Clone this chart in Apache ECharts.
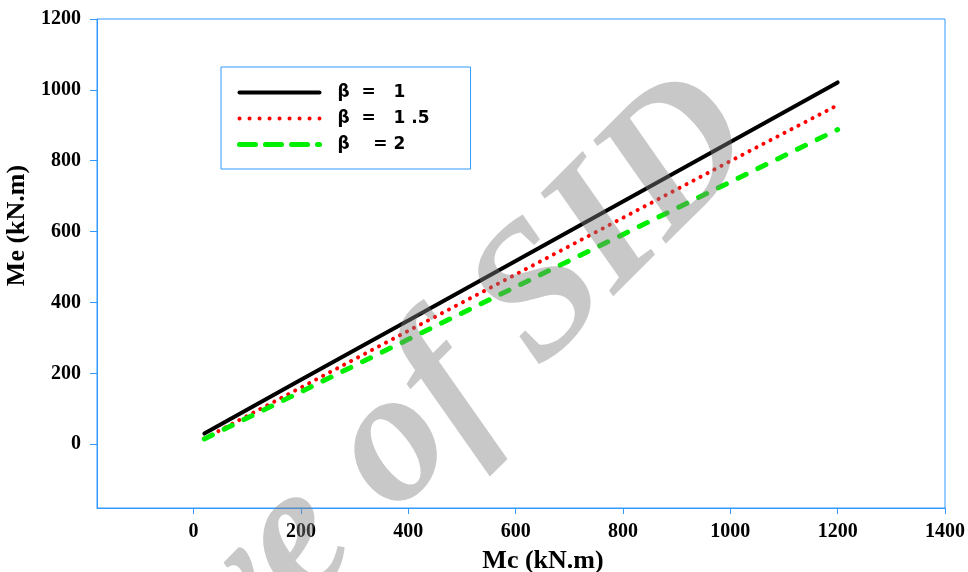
<!DOCTYPE html>
<html>
<head>
<meta charset="utf-8">
<script src="https://cdn.jsdelivr.net/npm/echarts@6/dist/echarts.min.js"></script>
<style>html,body{margin:0;padding:0;background:#fff}#c{width:968px;height:572px}</style>
</head>
<body>
<div id="c"></div>
<script>
const mcValues = [20, 200, 400, 600, 800, 1000, 1200];
const meBeta1 = [30, 182, 349, 517, 685, 853, 1021];
const meBeta15 = [16, 160, 320, 479, 639, 799, 957];
const meBeta2 = [15, 148, 296, 444, 592, 740, 888];
const seriesNames = ['β  =   1', 'β  =   1 .5', 'β    = 2'];
const xTicks = [0, 200, 400, 600, 800, 1000, 1200, 1400];
const yTicks = [0, 200, 400, 600, 800, 1000, 1200];

const blue = '#3399ff';
const pairs = ys => mcValues.map((x, i) => [x, ys[i]]);
const tickFont = {fontFamily: 'Liberation Serif', fontWeight: 'bold', fontSize: 20, color: '#000', formatter: v => String(v)};

const chart = echarts.init(document.getElementById('c'), null, {renderer: 'canvas'});
chart.setOption({
  animation: false,
  backgroundColor: '#fff',
  grid: {left: 97, right: 23, top: 19, bottom: 64, containLabel: false, outerBoundsMode: 'none',
         show: true, borderColor: blue, borderWidth: 1, backgroundColor: 'transparent'},
  xAxis: {
    type: 'value', min: -180, max: 1400,
    name: 'Mc (kN.m)', nameLocation: 'middle', nameGap: 40,
    nameTextStyle: {fontFamily: 'Liberation Serif', fontWeight: 'bold', fontSize: 26, color: '#000', padding: [0, 0, 0, 44]},
    axisLine: {show: true, onZero: false, lineStyle: {color: blue, width: 1}},
    axisTick: {show: true, length: 6, inside: false, customValues: xTicks, lineStyle: {color: blue}},
    axisLabel: {customValues: xTicks, margin: 14, ...tickFont},
    splitLine: {show: false}
  },
  yAxis: {
    type: 'value', min: -180, max: 1200,
    name: 'Me (kN.m)', nameLocation: 'middle', nameGap: 63,
    nameTextStyle: {fontFamily: 'Liberation Serif', fontWeight: 'bold', fontSize: 26, color: '#000', padding: [0, 0, 0, 76]},
    axisLine: {show: true, onZero: false, lineStyle: {color: blue, width: 1}},
    axisTick: {show: true, length: 7, inside: false, customValues: yTicks, lineStyle: {color: blue}},
    axisLabel: {customValues: yTicks, margin: 16, ...tickFont},
    splitLine: {show: false}
  },
  legend: {
    orient: 'vertical', left: 221, top: 67,
    data: [
      {name: seriesNames[0], itemStyle: {opacity: 0}, lineStyle: {width: 4, color: '#000', type: 'solid', cap: 'round'}},
      {name: seriesNames[1], itemStyle: {opacity: 0}, lineStyle: {width: 4, color: '#ff0000', type: [0.1, 9.9], cap: 'round'}},
      {name: seriesNames[2], itemStyle: {opacity: 0}, lineStyle: {width: 5, color: '#00ee00', type: [16, 10], cap: 'round'}}
    ],
    itemWidth: 80, itemHeight: 18, itemGap: 9,
    padding: [17, 41, 16, 16],
    borderColor: blue, borderWidth: 1,
    textStyle: {fontFamily: 'DejaVu Sans', fontWeight: 'bold', fontSize: 17, color: '#000', padding: [0, 0, 0, 13]}
  },
  series: [
    {name: seriesNames[0], type: 'line', symbol: 'none', data: pairs(meBeta1),
     lineStyle: {color: '#000', width: 4, cap: 'round'}, itemStyle: {color: '#000'}},
    {name: seriesNames[1], type: 'line', symbol: 'none', data: pairs(meBeta15),
     lineStyle: {color: '#ff0000', width: 4, type: [0.1, 7.8], cap: 'round'}, itemStyle: {color: '#ff0000'}},
    {name: seriesNames[2], type: 'line', symbol: 'none', data: pairs(meBeta2),
     lineStyle: {color: '#00ee00', width: 5, type: [9, 13], cap: 'round'}, itemStyle: {color: '#00ee00'}}
  ],
  graphic: [{
    type: 'text', z: 100, silent: true,
    x: 729, y: 111, rotation: 45 * Math.PI / 180,
    style: {text: 'Archive of SID', fontFamily: 'Liberation Serif', fontWeight: 'bold', fontStyle: 'italic', fontSize: 190,
      fill: '#808080', opacity: 0.43, align: 'right', verticalAlign: 'middle'}
  }]
});
</script>
</body>
</html>
